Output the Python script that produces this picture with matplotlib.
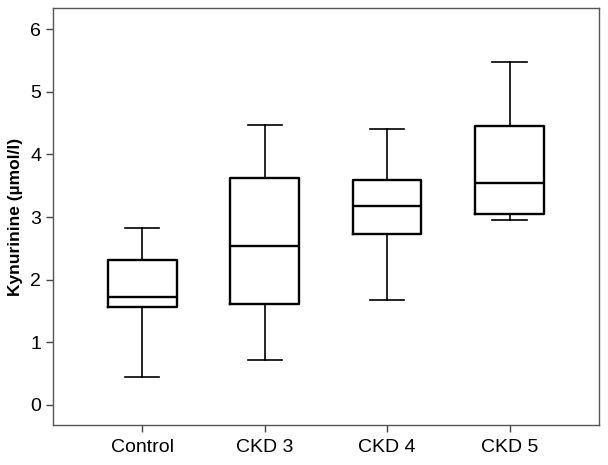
import matplotlib
matplotlib.use("Agg")
import matplotlib.pyplot as plt

plt.rcParams['font.family'] = ['Liberation Sans', 'DejaVu Sans']

groups = ['Control', 'CKD 3', 'CKD 4', 'CKD 5']
whislo = [0.44, 0.72, 1.68, 2.95]
q1 = [1.56, 1.61, 2.73, 3.05]
med = [1.73, 2.54, 3.18, 3.54]
q3 = [2.31, 3.63, 3.59, 4.45]
whishi = [2.82, 4.47, 4.40, 5.47]

stats = []
for i in range(len(groups)):
    stats.append(dict(label=groups[i], whislo=whislo[i], q1=q1[i], med=med[i],
                      q3=q3[i], whishi=whishi[i], fliers=[]))

fig = plt.figure(figsize=(6.08, 4.65), dpi=100)
ax = fig.add_axes([0.087, 0.086, 0.898, 0.897])

ax.bxp(stats, widths=0.56, showfliers=False,
       boxprops=dict(color='black', linewidth=1.7),
       medianprops=dict(color='black', linewidth=1.7),
       whiskerprops=dict(color='black', linewidth=1.2),
       capprops=dict(color='black', linewidth=1.2),
       capwidths=0.28)

ax.set_xlim(0.27, 4.73)
ax.set_ylim(-0.32, 6.34)
ax.set_yticks([0, 1, 2, 3, 4, 5, 6])
ax.set_ylabel('Kynurinine (µmol/l)', fontsize=12.5, fontweight='bold', labelpad=5)
ax.tick_params(labelsize=14, length=5, width=1, color='#444444')
ax.tick_params(axis='x', pad=5)
for s in ax.spines.values():
    s.set_color('#555555')
    s.set_linewidth(1)

fig.savefig('out.png', dpi=100)
